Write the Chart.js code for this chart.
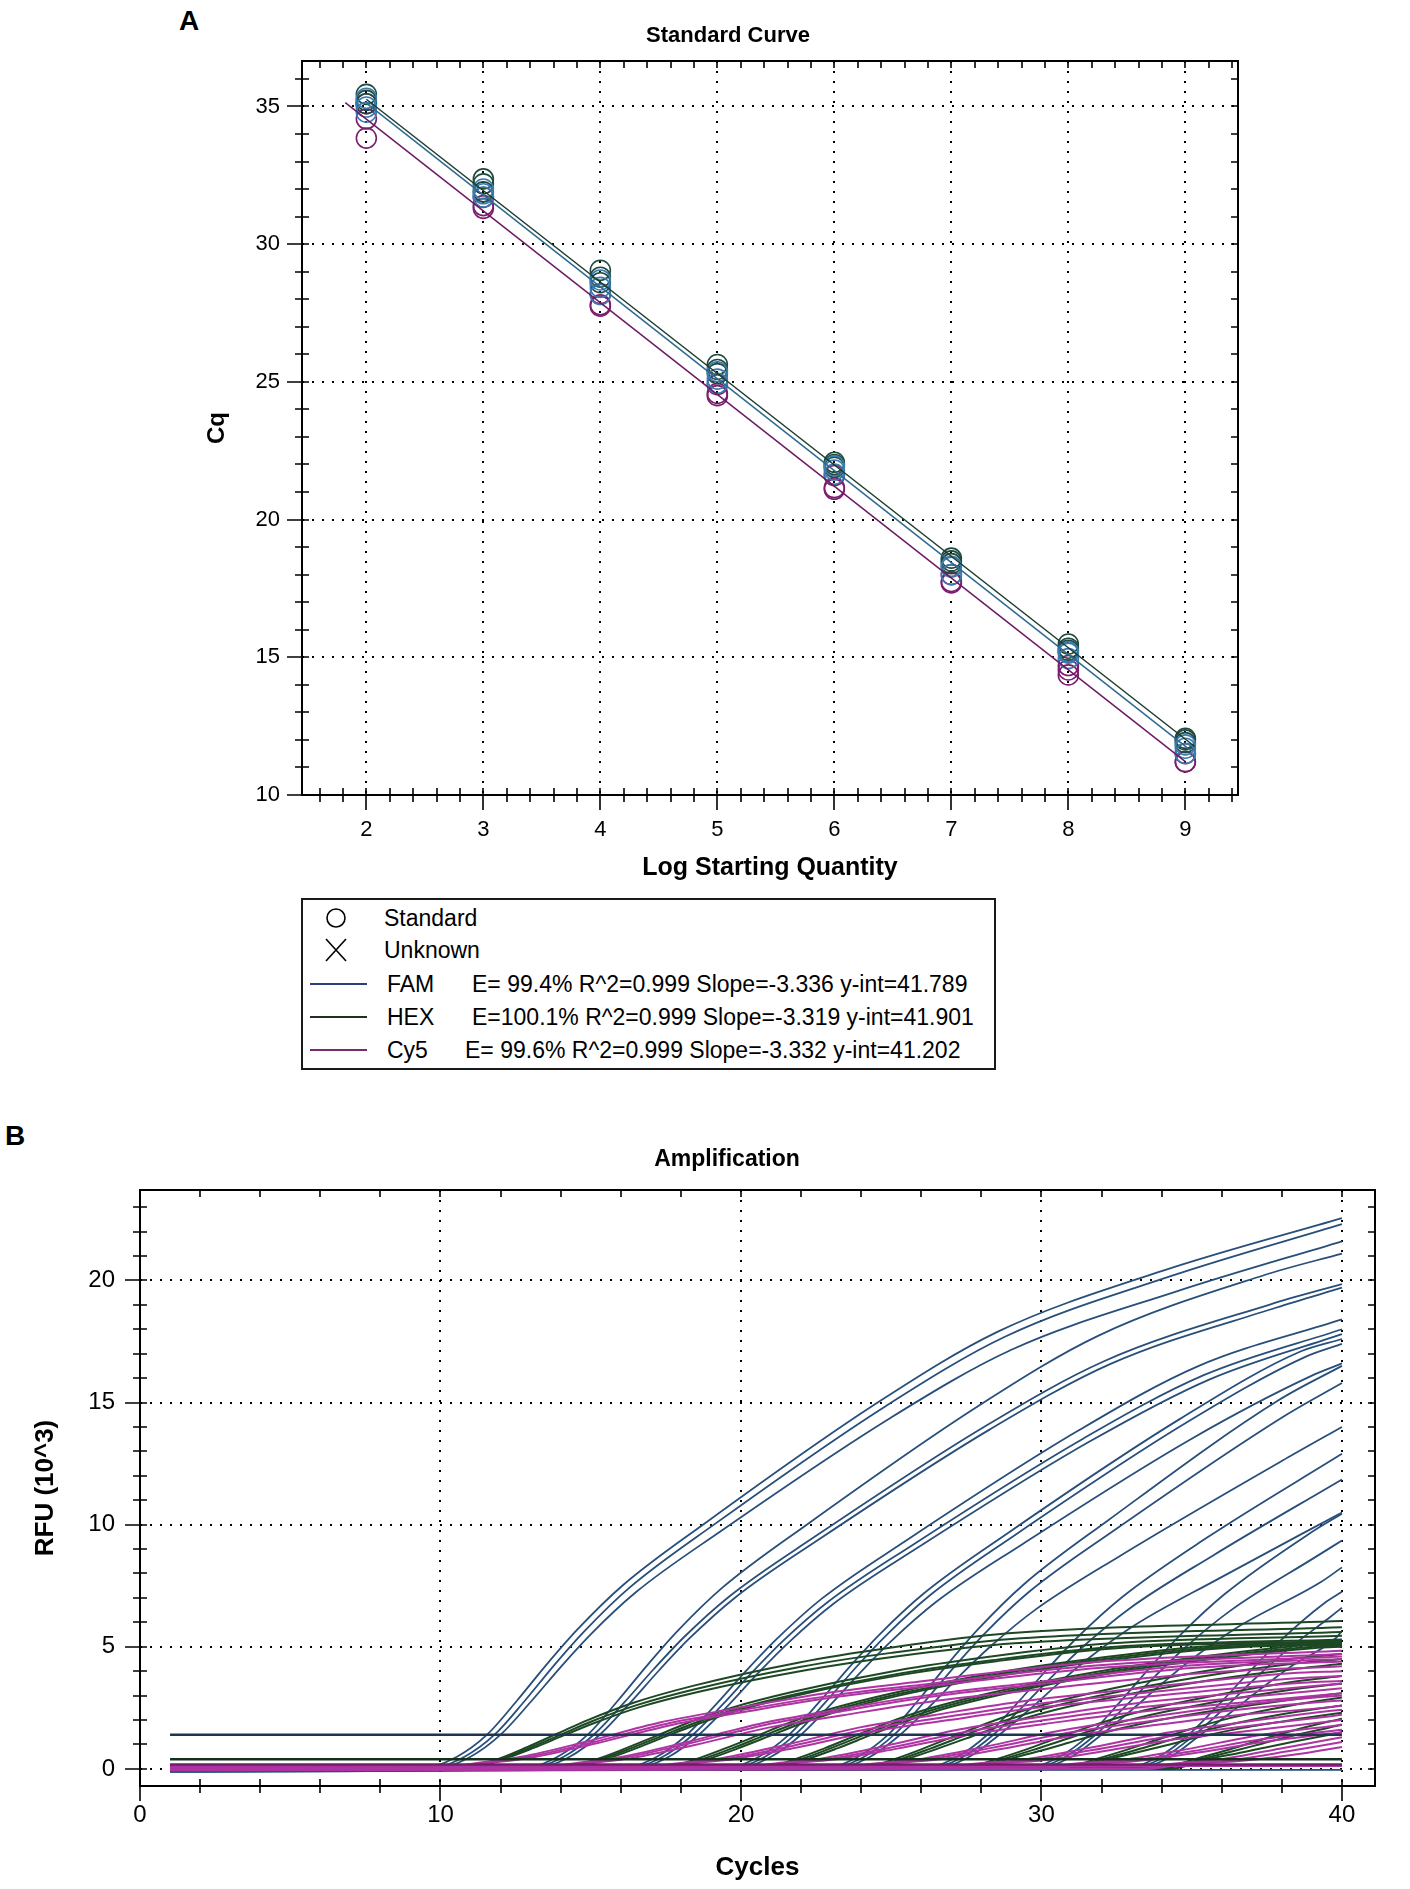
<!DOCTYPE html>
<html>
<head>
<meta charset="utf-8">
<title>Standard Curve / Amplification</title>
<script src="https://cdn.jsdelivr.net/npm/chart.js@4.4.1/dist/chart.umd.min.js"></script>
<style>
    html, body { margin: 0; padding: 0; background: #fff; }
    body { position: relative; width: 1410px; height: 1889px; overflow: hidden;
           font-family: 'Liberation Sans', Arial, sans-serif; color: #000; }
    .tag { position: absolute; font-weight: bold; font-size: 28px; line-height: 28px; }
    .wrap { position: absolute; left: 0; width: 1410px; }
    #legendA { position: absolute; left: 301px; top: 898px; width: 695px; height: 172px;
               box-sizing: border-box; border: 2px solid #1a1a1a; font-size: 23px; background: #fff; }
    #legendA .row { position: absolute; height: 26px; line-height: 26px; white-space: nowrap; }
    #legendA svg { position: absolute; left: 7px; }
</style>
</head>
<body>
<div class="tag" style="left:179px; top:7px;">A</div>
<div class="wrap" style="top:0; height:890px;"><canvas id="standardChart" width="1410" height="890"></canvas></div>
<div id="legendA"></div>
<div class="tag" style="left:5px; top:1122px;">B</div>
<div class="wrap" style="top:1100px; height:789px;"><canvas id="ampChart" width="1410" height="789"></canvas></div>

<script>
// ---------- Panel A: standard curve ----------
const logQuantity = [2, 3, 4, 5, 6, 7, 8, 9];
// Cq of the standards, three replicates per dye
const famCq = [
    [35.30, 32.00, 28.70, 25.37, 21.95, 18.30, 15.20, 11.82],
    [34.98, 31.83, 28.43, 25.10, 21.80, 18.27, 15.15, 11.70],
    [34.79, 31.71, 28.17, 24.95, 21.65, 18.00, 14.95, 11.51]
];
const hexCq = [
    [35.44, 32.37, 29.05, 25.63, 22.08, 18.60, 15.48, 12.06],
    [35.22, 32.19, 28.80, 25.45, 22.00, 18.50, 15.33, 12.00],
    [35.10, 31.90, 28.60, 25.30, 21.90, 18.40, 15.25, 11.90]
];
const cy5Cq = [
    [35.10, 31.70, 28.20, 24.90, 21.60, 18.00, 14.70, 11.50],
    [34.55, 31.40, 27.80, 24.58, 21.16, 17.70, 14.54, 11.21],
    [33.85, 31.30, 27.75, 24.50, 21.10, 17.75, 14.36, 11.20]
];
// regression line end points (x and Cq), FAM / HEX / Cy5
const fitNames = ['FAM', 'HEX', 'Cy5'];
const fitX = [[2.0, 9.05], [2.0, 9.08], [1.82, 9.0]];
const fitCq = [[35.12, 11.60], [35.26, 11.76], [35.14, 11.21]];
const fitStats = [
    'E= 99.4% R^2=0.999 Slope=-3.336 y-int=41.789',
    'E=100.1% R^2=0.999 Slope=-3.319 y-int=41.901',
    'E= 99.6% R^2=0.999 Slope=-3.332 y-int=41.202'
];
const markerNames = ['Standard', 'Unknown'];
const aXTicks = [2, 3, 4, 5, 6, 7, 8, 9];
const aYTicks = [10, 15, 20, 25, 30, 35];

// ---------- Panel B: amplification (cycle, RFU x10^3) ----------
const bXTicks = [0, 10, 20, 30, 40];
const bYTicks = [0, 5, 10, 15, 20];
const bCycleSpan = [1, 40];
const bThresholds = [1.4, 0.4, 0.18];   // FAM, HEX, Cy5
const bFam = [
    [[1,-0.10],[9.35,0],[10.55,0.5],[11.55,1.4],[12.55,2.8],[13.55,4.3],[14.55,5.7],[16.05,7.5],[18.85,10.1],[24.55,15.0],[28.55,17.9],[34.05,20.4],[40,22.55]],
    [[1,0.02],[9.6,0],[10.8,0.5],[11.8,1.4],[12.8,2.78],[13.8,4.27],[14.8,5.65],[16.3,7.43],[19.1,10.0],[24.8,14.84],[28.8,17.7],[34.3,20.17],[40,22.3]],
    [[1,-0.05],[9.8,0],[11.0,0.5],[12.0,1.4],[13.0,2.74],[14.0,4.17],[15.0,5.51],[16.5,7.23],[19.3,9.71],[25.0,14.39],[29.0,17.16],[34.5,19.55],[40,21.6]],
    [[1,0.05],[12.7,0],[13.9,0.5],[14.9,1.4],[15.9,2.79],[16.9,4.27],[17.9,5.66],[19.4,7.44],[22.2,10.01],[27.9,14.86],[31.9,17.74],[37.4,20.21],[40,21.1]],
    [[1,-0.12],[12.9,0],[14.1,0.5],[15.1,1.4],[16.1,2.7],[17.1,4.09],[18.1,5.39],[19.6,7.05],[22.4,9.46],[28.1,14.01],[32.1,16.7],[37.6,19.01],[40,19.85]],
    [[1,0.00],[13.1,0],[14.3,0.5],[15.3,1.4],[16.3,2.69],[17.3,4.07],[18.3,5.36],[19.8,7.01],[22.6,9.4],[28.3,13.91],[32.3,16.58],[37.8,18.88],[40,19.7]],
    [[1,-0.06],[16.0,0],[17.2,0.5],[18.2,1.4],[19.2,2.68],[20.2,4.05],[21.2,5.33],[22.7,6.98],[25.5,9.35],[31.2,13.83],[35.2,16.48],[40,18.4]],
    [[1,0.08],[16.2,0],[17.4,0.5],[18.4,1.4],[19.4,2.65],[20.4,3.99],[21.4,5.24],[22.9,6.84],[25.7,9.16],[31.4,13.53],[35.4,16.12],[40,18.0]],
    [[1,-0.02],[16.4,0],[17.6,0.5],[18.6,1.4],[19.6,2.63],[20.6,3.96],[21.6,5.19],[23.1,6.78],[25.9,9.07],[31.6,13.4],[35.6,15.95],[40,17.8]],
    [[1,0.03],[19.4,0],[20.6,0.5],[21.6,1.4],[22.6,2.73],[23.6,4.16],[24.6,5.49],[26.1,7.2],[28.9,9.67],[34.6,14.32],[38.6,17.08],[40,17.6]],
    [[1,-0.09],[19.6,0],[20.8,0.5],[21.8,1.4],[22.8,2.71],[23.8,4.12],[24.8,5.43],[26.3,7.12],[29.1,9.56],[34.8,14.16],[38.8,16.88],[40,17.4]],
    [[1,0.06],[19.8,0],[21.0,0.5],[22.0,1.4],[23.0,2.65],[24.0,3.98],[25.0,5.23],[26.5,6.84],[29.3,9.15],[35.0,13.52],[39.0,16.1],[40,16.6]],
    [[1,-0.04],[22.7,0],[23.9,0.5],[24.9,1.4],[25.9,2.81],[26.9,4.32],[27.9,5.73],[29.4,7.54],[32.2,10.16],[37.9,15.1],[40,16.5]],
    [[1,0.01],[22.9,0],[24.1,0.5],[25.1,1.4],[26.1,2.74],[27.1,4.18],[28.1,5.53],[29.6,7.26],[32.4,9.75],[38.1,14.46],[40,15.8]],
    [[1,-0.11],[23.1,0],[24.3,0.5],[25.3,1.4],[26.3,2.58],[27.3,3.84],[28.3,5.01],[29.8,6.52],[32.6,8.71],[38.3,12.82],[40,14.0]],
    [[1,0.07],[26.0,0],[27.2,0.5],[28.2,1.4],[29.2,2.7],[30.2,4.09],[31.2,5.39],[32.7,7.05],[35.5,9.46],[40,12.9]],
    [[1,-0.03],[26.2,0],[27.4,0.5],[28.4,1.4],[29.4,2.58],[30.4,3.84],[31.4,5.02],[32.9,6.54],[35.7,8.73],[40,11.85]],
    [[1,0.04],[26.4,0],[27.6,0.5],[28.6,1.4],[29.6,2.43],[30.6,3.53],[31.6,4.56],[33.1,5.88],[35.9,7.79],[40,10.5]],
    [[1,-0.08],[29.4,0],[30.6,0.5],[31.6,1.4],[32.6,2.72],[33.6,4.14],[34.6,5.46],[36.1,7.16],[38.9,9.62],[40,10.45]],
    [[1,0.02],[29.6,0],[30.8,0.5],[31.8,1.4],[32.8,2.57],[33.8,3.82],[34.8,4.99],[36.3,6.49],[39.1,8.66],[40,9.35]],
    [[1,-0.06],[29.8,0],[31.0,0.5],[32.0,1.4],[33.0,2.41],[34.0,3.48],[35.0,4.49],[36.5,5.78],[39.3,7.65],[40,8.25]],
    [[1,0.05],[32.7,0],[33.9,0.5],[34.9,1.4],[35.9,2.63],[36.9,3.95],[37.9,5.19],[39.4,6.77],[40,7.25]],
    [[1,-0.10],[32.9,0],[34.1,0.5],[35.1,1.4],[36.1,2.5],[37.1,3.69],[38.1,4.79],[39.6,6.21],[40,6.6]],
    [[1,0.00],[33.1,0],[34.3,0.5],[35.3,1.4],[36.3,2.31],[37.3,3.28],[38.3,4.19],[39.8,5.36],[40,5.65]],
    [[1,-0.05],[40,-0.04]]
];
const bHex = [
    [[1,0.08],[10.7,0.02],[11.9,0.4],[12.9,0.9],[13.9,1.45],[14.9,2.0],[16.4,2.7],[18.4,3.4],[21.9,4.35],[24.9,4.95],[28.9,5.55],[40,6.05]],
    [[1,0.12],[10.8,0.03],[12.0,0.4],[13.0,0.88],[14.0,1.4],[15.0,1.93],[16.5,2.6],[18.5,3.27],[22.0,4.18],[25.0,4.75],[29.0,5.32],[40,5.8]],
    [[1,0.04],[10.9,0.0],[12.1,0.4],[13.1,0.86],[14.1,1.37],[15.1,1.87],[16.6,2.52],[18.6,3.16],[22.1,4.03],[25.1,4.59],[29.1,5.14],[40,5.6]],
    [[1,0.10],[14.0,0.02],[15.2,0.4],[16.2,0.86],[17.2,1.36],[18.2,1.87],[19.7,2.51],[21.7,3.15],[25.2,4.03],[28.2,4.58],[32.2,5.13],[40,5.45]],
    [[1,0.02],[14.15,0.0],[15.35,0.4],[16.35,0.85],[17.35,1.34],[18.35,1.83],[19.85,2.45],[21.85,3.07],[25.35,3.92],[28.35,4.45],[32.35,4.99],[40,5.3]],
    [[1,0.14],[14.3,0.04],[15.5,0.4],[16.5,0.84],[17.5,1.33],[18.5,1.81],[20.0,2.43],[22.0,3.05],[25.5,3.88],[28.5,4.41],[32.5,4.94],[40,5.25]],
    [[1,0.06],[17.3,0.01],[18.5,0.4],[19.5,0.85],[20.5,1.34],[21.5,1.84],[23.0,2.46],[25.0,3.09],[28.5,3.94],[31.5,4.48],[35.5,5.02],[40,5.2]],
    [[1,0.11],[17.5,0.03],[18.7,0.4],[19.7,0.84],[20.7,1.33],[21.7,1.82],[23.2,2.44],[25.2,3.06],[28.7,3.91],[31.7,4.44],[35.7,4.97],[40,5.15]],
    [[1,0.03],[17.7,0.0],[18.9,0.4],[19.9,0.84],[20.9,1.32],[21.9,1.81],[23.4,2.42],[25.4,3.04],[28.9,3.87],[31.9,4.4],[35.9,4.93],[40,5.1]],
    [[1,0.09],[20.6,0.02],[21.8,0.4],[22.8,0.85],[23.8,1.35],[24.8,1.85],[26.3,2.48],[28.3,3.11],[31.8,3.97],[34.8,4.51],[38.8,5.06],[40,5.12]],
    [[1,0.13],[20.8,0.04],[22.0,0.4],[23.0,0.85],[24.0,1.34],[25.0,1.83],[26.5,2.46],[28.5,3.08],[32.0,3.93],[35.0,4.47],[39.0,5.0],[40,5.06]],
    [[1,0.05],[21.0,0.01],[22.2,0.4],[23.2,0.84],[24.2,1.33],[25.2,1.82],[26.7,2.44],[28.7,3.06],[32.2,3.9],[35.2,4.43],[39.2,4.96],[40,5.0]],
    [[1,0.07],[23.9,0.02],[25.1,0.4],[26.1,0.85],[27.1,1.34],[28.1,1.83],[29.6,2.46],[31.6,3.09],[35.1,3.94],[38.1,4.48],[40,4.7]],
    [[1,0.12],[24.1,0.03],[25.3,0.4],[26.3,0.83],[27.3,1.3],[28.3,1.77],[29.8,2.36],[31.8,2.96],[35.3,3.77],[38.3,4.29],[40,4.5]],
    [[1,0.01],[24.3,0.0],[25.5,0.4],[26.5,0.81],[27.5,1.25],[28.5,1.7],[30.0,2.27],[32.0,2.84],[35.5,3.61],[38.5,4.1],[40,4.3]],
    [[1,0.10],[27.3,0.02],[28.5,0.4],[29.5,0.8],[30.5,1.25],[31.5,1.69],[33.0,2.26],[35.0,2.82],[38.5,3.59],[40,3.8]],
    [[1,0.04],[27.5,0.01],[28.7,0.4],[29.7,0.77],[30.7,1.17],[31.7,1.58],[33.2,2.09],[35.2,2.61],[38.7,3.31],[40,3.5]],
    [[1,0.14],[27.7,0.04],[28.9,0.4],[29.9,0.72],[30.9,1.07],[31.9,1.43],[33.4,1.87],[35.4,2.32],[38.9,2.93],[40,3.1]],
    [[1,0.06],[30.6,0.01],[31.8,0.4],[32.8,0.77],[33.8,1.17],[34.8,1.57],[36.3,2.09],[38.3,2.6],[40,2.92]],
    [[1,0.11],[30.8,0.03],[32.0,0.4],[33.0,0.72],[34.0,1.08],[35.0,1.43],[36.5,1.88],[38.5,2.34],[40,2.6]],
    [[1,0.02],[31.0,0.0],[32.2,0.4],[33.2,0.68],[34.2,0.98],[35.2,1.29],[36.7,1.68],[38.7,2.07],[40,2.3]],
    [[1,0.08],[33.9,0.02],[35.1,0.4],[36.1,0.74],[37.1,1.11],[38.1,1.48],[39.6,1.95],[40,2.05]],
    [[1,0.13],[34.1,0.03],[35.3,0.4],[36.3,0.7],[37.3,1.02],[38.3,1.34],[39.8,1.76],[40,1.82]],
    [[1,0.03],[34.3,0.0],[35.5,0.4],[36.5,0.63],[37.5,0.89],[38.5,1.14],[40,1.5]]
];
const bCy5 = [
    [[1,0.05],[10.0,0.0],[11.0,0.2],[12.7,0.5],[14.8,1.1],[17.3,1.9],[19.7,2.45],[22.8,3.1],[26.1,3.6],[31.6,4.36],[40,4.84]],
    [[1,-0.03],[10.2,0.0],[11.2,0.2],[12.9,0.49],[15.0,1.07],[17.5,1.84],[19.9,2.38],[23.0,3.0],[26.3,3.49],[31.8,4.23],[40,4.7]],
    [[1,0.09],[10.4,0.02],[11.4,0.2],[13.1,0.48],[15.2,1.05],[17.7,1.8],[20.1,2.33],[23.2,2.95],[26.5,3.42],[32.0,4.14],[40,4.6]],
    [[1,0.02],[13.3,0.0],[14.3,0.2],[16.0,0.49],[18.1,1.07],[20.6,1.84],[23.0,2.38],[26.1,3.0],[29.4,3.49],[34.9,4.23],[40,4.5]],
    [[1,-0.06],[13.5,-0.01],[14.5,0.2],[16.2,0.48],[18.3,1.05],[20.8,1.8],[23.2,2.33],[26.3,2.95],[29.6,3.42],[35.1,4.14],[40,4.4]],
    [[1,0.07],[13.7,0.02],[14.7,0.2],[16.4,0.45],[18.5,0.99],[21.0,1.71],[23.4,2.2],[26.5,2.79],[29.8,3.24],[35.3,3.92],[40,4.2]],
    [[1,0.00],[16.7,0.0],[17.7,0.2],[19.4,0.45],[21.5,0.99],[24.0,1.71],[26.4,2.2],[29.5,2.79],[32.8,3.24],[38.3,3.92],[40,4.0]],
    [[1,0.10],[16.9,0.03],[17.9,0.2],[19.6,0.43],[21.7,0.94],[24.2,1.62],[26.6,2.08],[29.7,2.64],[33.0,3.06],[38.5,3.71],[40,3.8]],
    [[1,-0.04],[17.1,0.0],[18.1,0.2],[19.8,0.41],[21.9,0.89],[24.4,1.54],[26.8,1.98],[29.9,2.51],[33.2,2.92],[38.7,3.53],[40,3.6]],
    [[1,0.06],[20.0,0.01],[21.0,0.2],[22.7,0.43],[24.8,0.94],[27.3,1.62],[29.7,2.08],[32.8,2.64],[36.1,3.06],[40,3.5]],
    [[1,-0.02],[20.2,0.0],[21.2,0.2],[22.9,0.4],[25.0,0.88],[27.5,1.52],[29.9,1.96],[33.0,2.48],[36.3,2.88],[40,3.3]],
    [[1,0.11],[20.4,0.03],[21.4,0.2],[23.1,0.38],[25.2,0.83],[27.7,1.43],[30.1,1.84],[33.2,2.33],[36.5,2.7],[40,3.1]],
    [[1,0.03],[23.3,0.0],[24.3,0.2],[26.0,0.41],[28.1,0.9],[30.6,1.56],[33.0,2.01],[36.1,2.54],[39.4,2.95],[40,3.0]],
    [[1,-0.05],[23.5,0.0],[24.5,0.2],[26.2,0.39],[28.3,0.85],[30.8,1.46],[33.2,1.89],[36.3,2.39],[39.6,2.77],[40,2.8]],
    [[1,0.08],[23.7,0.02],[24.7,0.2],[26.4,0.36],[28.5,0.78],[31.0,1.35],[33.4,1.74],[36.5,2.2],[39.8,2.56],[40,2.6]],
    [[1,0.01],[26.7,0.0],[27.7,0.2],[29.4,0.38],[31.5,0.84],[34.0,1.44],[36.4,1.86],[39.5,2.36],[40,2.42]],
    [[1,0.12],[26.9,0.03],[27.9,0.2],[29.6,0.35],[31.7,0.77],[34.2,1.33],[36.6,1.72],[39.7,2.17],[40,2.22]],
    [[1,-0.03],[27.1,0.0],[28.1,0.2],[29.8,0.32],[31.9,0.69],[34.4,1.2],[36.8,1.54],[40,2.0]],
    [[1,0.05],[30.0,0.01],[31.0,0.2],[32.7,0.37],[34.8,0.8],[37.3,1.39],[40,1.8]],
    [[1,-0.01],[30.2,0.0],[31.2,0.2],[32.9,0.33],[35.0,0.72],[37.5,1.24],[40,1.6]],
    [[1,0.09],[30.4,0.02],[31.4,0.2],[33.1,0.31],[35.2,0.67],[37.7,1.16],[40,1.5]],
    [[1,0.04],[33.3,0.01],[34.3,0.2],[36.0,0.4],[38.1,0.87],[40,1.3]],
    [[1,-0.04],[33.5,0.0],[34.5,0.2],[36.2,0.34],[38.3,0.74],[40,1.1]],
    [[1,0.10],[33.7,0.02],[34.7,0.2],[36.4,0.3],[38.5,0.6],[40,0.9]],
    [[1,0.12],[40,0.12]]
];

// ---------- styles ----------
const dyeMarkerColors = ['#3a7bb0', '#1f4a3e', '#7d1d6f'];   // FAM, HEX, Cy5 circles
const dyeFitColors = ['#2b6a92', '#1c3b2b', '#6e1a62'];
const dyeLegendColors = ['#2b3f7f', '#213021', '#7b2a6e'];
const ampColors = { fam: '#284f7a', hex: '#1d4824', cy5: '#ad34a2' };
const thresholdColors = ['#1d3550', '#14301a', '#6e1f66'];
const fontFamily = "'Liberation Sans', Arial, sans-serif";

Chart.defaults.font.family = fontFamily;
Chart.defaults.color = '#000';
Chart.defaults.animation = false;

// step through minor ticks, flagging the major ones
function eachStep(min, max, step, major, fn) {
    const first = Math.ceil(min / step - 1e-9);
    const last = Math.floor(max / step + 1e-9);
    const every = Math.round(major / step);
    for (let k = first; k <= last; k++) fn(k * step, k % every === 0);
}

// Box frame with ticks on all four sides, plus the plot title
const framePlugin = {
    id: 'frame',
    afterDraw(chart, args, opts) {
        const { ctx, chartArea: area } = chart;
        const xs = chart.scales.x, ys = chart.scales.y;
        ctx.save();
        ctx.strokeStyle = '#000';
        ctx.lineWidth = 1.6;
        ctx.beginPath();
        eachStep(xs.min, xs.max, opts.xMinor, opts.xMajor, (v, major) => {
            const px = Math.round(xs.getPixelForValue(v));
            ctx.moveTo(px, area.bottom - 7);
            ctx.lineTo(px, area.bottom + (major ? 15 : 7));
            ctx.moveTo(px, area.top);
            ctx.lineTo(px, area.top + 7);
        });
        eachStep(ys.min, ys.max, opts.yMinor, opts.yMajor, (v, major) => {
            const py = Math.round(ys.getPixelForValue(v));
            ctx.moveTo(area.left - (major ? 15 : 7), py);
            ctx.lineTo(area.left + 7, py);
            ctx.moveTo(area.right - 7, py);
            ctx.lineTo(area.right, py);
        });
        ctx.stroke();
        ctx.lineWidth = 2;
        ctx.strokeRect(area.left, area.top, area.right - area.left, area.bottom - area.top);
        ctx.fillStyle = '#000';
        ctx.font = 'bold ' + opts.titleSize + 'px ' + fontFamily;
        ctx.textAlign = 'center';
        ctx.textBaseline = 'middle';
        ctx.fillText(opts.title, opts.titleX, opts.titleY);
        ctx.restore();
    }
};

function axis(opts) {
    return {
        type: 'linear',
        min: opts.min,
        max: opts.max,
        afterBuildTicks: scale => { scale.ticks = opts.ticks.map(v => ({ value: v })); },
        afterFit: scale => {
            if (opts.width) scale.width = opts.width;
            if (opts.height) scale.height = opts.height;
        },
        grid: { color: '#000', lineWidth: 2, drawTicks: false },
        border: { display: false, dash: [2, 8] },
        ticks: { padding: opts.tickPad, font: { size: opts.tickSize }, color: '#000', maxRotation: 0 },
        title: { display: true, text: opts.title, color: '#000',
                 font: { size: opts.titleSize, weight: 'bold' }, padding: opts.titlePad }
    };
}

document.addEventListener('DOMContentLoaded', () => {
    buildLegend();
    drawStandardCurve();
    drawAmplification();
});

// HTML legend box under panel A
function buildLegend() {
    const box = document.getElementById('legendA');
    const rowTop = [5, 37, 71, 104, 137];
    let html = '';
    html += `<svg style="top:${rowTop[0]}px" width="60" height="26"><circle cx="26" cy="13" r="9" fill="none" stroke="#000" stroke-width="1.6"/></svg>`;
    html += `<svg style="top:${rowTop[1]}px" width="60" height="26"><path d="M16 2 L36 24 M36 2 L16 24" stroke="#000" stroke-width="1.6" fill="none"/></svg>`;
    markerNames.forEach((name, i) => {
        html += `<div class="row" style="top:${rowTop[i]}px; left:81px;">${name}</div>`;
    });
    const statLeft = [169, 169, 162];
    fitNames.forEach((name, i) => {
        const t = rowTop[i + 2];
        html += `<svg style="top:${t}px" width="60" height="26"><line x1="0" y1="13" x2="57" y2="13" stroke="${dyeLegendColors[i]}" stroke-width="2"/></svg>`;
        html += `<div class="row" style="top:${t}px; left:84px;">${name}</div>`;
        html += `<div class="row" style="top:${t}px; left:${statLeft[i]}px;">${fitStats[i]}</div>`;
    });
    box.innerHTML = html;
}

function drawStandardCurve() {
    const ctx = document.getElementById('standardChart').getContext('2d');
    const datasets = [];
    // regression lines first so they are drawn over the circles
    fitNames.forEach((name, i) => {
        datasets.push({
            type: 'line',
            label: name,
            data: fitX[i].map((x, j) => [x, fitCq[i][j]]),
            borderColor: dyeFitColors[i],
            borderWidth: 1.5,
            pointRadius: 0,
            fill: false
        });
    });
    [famCq, hexCq, cy5Cq].forEach((reps, d) => {
        reps.forEach(rep => {
            datasets.push({
                type: 'scatter',
                data: logQuantity.map((x, j) => [x, rep[j]]),
                pointStyle: 'circle',
                pointRadius: 10,
                borderWidth: 1.6,
                borderColor: dyeMarkerColors[d],
                backgroundColor: 'rgba(0,0,0,0)'
            });
        });
    });
    new Chart(ctx, {
        type: 'scatter',
        data: { datasets },
        options: {
            responsive: false,
            devicePixelRatio: 1,
            events: [],
            layout: { padding: { top: 61, right: 172, left: 0, bottom: 0 } },
            plugins: {
                legend: { display: false },
                tooltip: { enabled: false },
                frame: { title: 'Standard Curve', titleX: 728, titleY: 36, titleSize: 22,
                         xMinor: 0.2, xMajor: 1, yMinor: 1, yMajor: 5 }
            },
            scales: {
                x: axis({ min: 1.45, max: 9.45, ticks: aXTicks, height: 95, tickPad: 22, tickSize: 22,
                          title: 'Log Starting Quantity', titleSize: 25, titlePad: { top: 0, bottom: 7 } }),
                y: axis({ min: 10, max: 36.65, ticks: aYTicks, width: 302, tickPad: 22, tickSize: 22,
                          title: 'Cq', titleSize: 24, titlePad: { top: 202.6, bottom: 0 } })
            }
        },
        plugins: [framePlugin]
    });
}

function curve(points, color, width) {
    return {
        data: points,
        borderColor: color,
        borderWidth: width,
        pointRadius: 0,
        fill: false,
        cubicInterpolationMode: 'monotone'
    };
}

function drawAmplification() {
    const ctx = document.getElementById('ampChart').getContext('2d');
    const datasets = [];
    // threshold lines on top, then Cy5, HEX and FAM traces
    bThresholds.forEach((v, i) => {
        datasets.push(curve(bCycleSpan.map(c => [c, v]), thresholdColors[i], 2.5));
    });
    bCy5.forEach(p => datasets.push(curve(p, ampColors.cy5, 2)));
    bHex.forEach(p => datasets.push(curve(p, ampColors.hex, 2)));
    bFam.forEach(p => datasets.push(curve(p, ampColors.fam, 1.8)));

    new Chart(ctx, {
        type: 'line',
        data: { datasets },
        options: {
            responsive: false,
            devicePixelRatio: 1,
            events: [],
            layout: { padding: { top: 90, right: 35, left: 0, bottom: 0 } },
            plugins: {
                legend: { display: false },
                tooltip: { enabled: false },
                frame: { title: 'Amplification', titleX: 727, titleY: 60, titleSize: 23,
                         xMinor: 2, xMajor: 10, yMinor: 1, yMajor: 5 }
            },
            scales: {
                x: axis({ min: 0, max: 41.1, ticks: bXTicks, height: 103, tickPad: 14.6, tickSize: 24,
                          title: 'Cycles', titleSize: 26, titlePad: { top: 0, bottom: 5.4 } }),
                y: axis({ min: -0.7, max: 23.7, ticks: bYTicks, width: 140, tickPad: 25, tickSize: 24,
                          title: 'RFU (10^3)', titleSize: 26, titlePad: { top: 30.4, bottom: 0 } })
            }
        },
        plugins: [framePlugin]
    });
}
</script>
</body>
</html>
